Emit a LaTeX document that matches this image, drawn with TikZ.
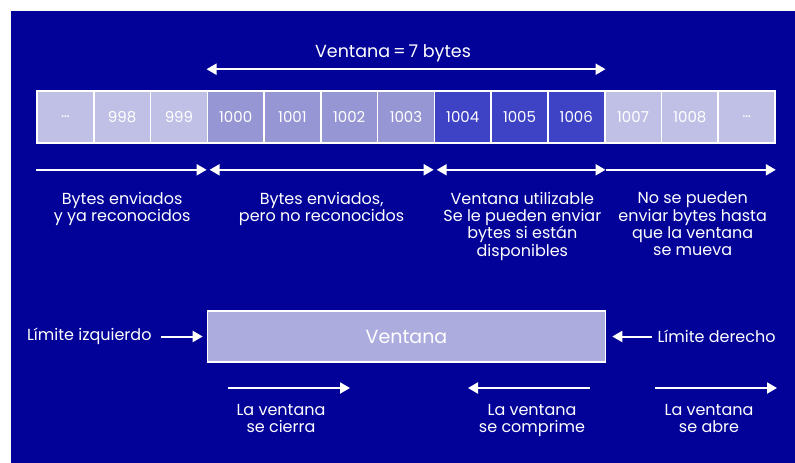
\documentclass[tikz,border=0pt]{standalone}
\usepackage{fontspec}
\setmainfont{Poppins}
\usetikzlibrary{arrows.meta,positioning,calc}
\definecolor{fondo}{RGB}{2,2,152}
\definecolor{claro}{RGB}{192,192,230}
\definecolor{medio}{RGB}{150,150,212}
\definecolor{oscuro}{RGB}{62,66,196}
\definecolor{caja}{RGB}{172,172,222}

\begin{document}
\begin{tikzpicture}[x=1pt,y=-1pt,
  flecha/.style={draw=white,line width=2pt,-{Triangle[length=10pt,width=11pt]}},
  doble/.style={draw=white,line width=2pt,{Triangle[length=10pt,width=11pt]}-{Triangle[length=10pt,width=11pt]}},
  texto/.style={text=white,font=\fontsize{16}{17.3}\selectfont,align=center,inner sep=1pt},
  celda/.style={draw=white,line width=1.6pt,minimum width=56.77pt,minimum height=52pt,
    inner sep=0pt,text=white,font=\fontsize{15}{16}\selectfont}]
\useasboundingbox (0,0) rectangle (795,463);
\fill[white] (0,0) rectangle (795,463);
\fill[fondo] (11,11) rectangle (795,463);
% byte strip
\foreach \lab/\col [count=\i] in {
  {\dots}/claro, 998/claro, 999/claro,
  1000/medio, 1001/medio, 1002/medio, 1003/medio,
  1004/oscuro, 1005/oscuro, 1006/oscuro,
  1007/claro, 1008/claro, {\dots}/claro}{
  \node[celda,fill=\col] (c\i) at ({37+56.77*(\i-0.5)},117) {\lab};
}
% window size
\coordinate (vi) at ($(c4.north west)+(0,-21)$);
\coordinate (vd) at ($(c10.north east)+(0,-21)$);
\draw[doble] (vi) -- (vd);
\node[texto,font=\fontsize{17.5}{19}\selectfont,anchor=south] (tam) at ($(vi)!0.5!(vd)+(-13,-6)$) {Ventana$\,$=$\,$7 bytes};
% regions
\coordinate (p0) at ($(c1.south west)+(0,26)$);
\coordinate (p1) at ($(c3.south east)+(0,26)$);
\coordinate (p2) at ($(c7.south east)+(0,26)$);
\coordinate (p3) at ($(c10.south east)+(0,26)$);
\coordinate (p4) at ($(c13.south east)+(0,26)$);
\draw[flecha,shorten >=1.5pt] (p0) -- (p1);
\draw[doble,shorten <=1.5pt,shorten >=1.5pt] (p1) -- (p2);
\draw[doble,shorten <=1.5pt] (p2) -- (p3);
\draw[flecha] (p3) -- (p4);
\node[texto,anchor=north] (r1) at ($(p0)!0.5!(p1)+(0,21)$) {Bytes enviados\\y ya reconocidos};
\node[texto,anchor=north] (r2) at ($(p1)!0.5!(p2)+(0,21)$) {Bytes enviados,\\pero no reconocidos};
\node[texto,anchor=north] (r3) at ($(p2)!0.5!(p3)+(2,21)$) {Ventana utilizable\\Se le pueden enviar\\bytes si están\\disponibles};
\node[texto,anchor=north] (r4) at ($(p3)!0.5!(p4)+(2,21)$) {No se pueden\\enviar bytes hasta\\que la ventana\\se mueva};
% window
\node[draw=white,line width=1.6pt,fill=caja,minimum width=398pt,minimum height=51pt,
  text=white,font=\fontsize{19}{21}\selectfont] (ventana) at (406.5,336.5) {Ventana};
\node[texto,left=54pt of ventana] (limiz) {Límite izquierdo};
\node[texto,right=50pt of ventana] (limder) {Límite derecho};
\draw[flecha,shorten <=8pt,shorten >=4pt] (limiz) -- (ventana);
\draw[flecha,shorten <=4pt,shorten >=6pt] (limder) -- (ventana);
% movements
\coordinate (m1a) at (228,388); \coordinate (m1b) at (350,388);
\coordinate (m2a) at (590,388); \coordinate (m2b) at (468,388);
\coordinate (m3a) at (655,388); \coordinate (m3b) at (777,388);
\draw[flecha] (m1a) -- (m1b);
\draw[flecha] (m2a) -- (m2b);
\draw[flecha] (m3a) -- (m3b);
\node[texto,anchor=north] (cierra) at (281,403) {La ventana\\se cierra};
\node[texto,anchor=north] (comprime) at (532,403) {La ventana\\se comprime};
\node[texto,anchor=north] (abre) at (709,403) {La ventana\\se abre};
\end{tikzpicture}
\end{document}
